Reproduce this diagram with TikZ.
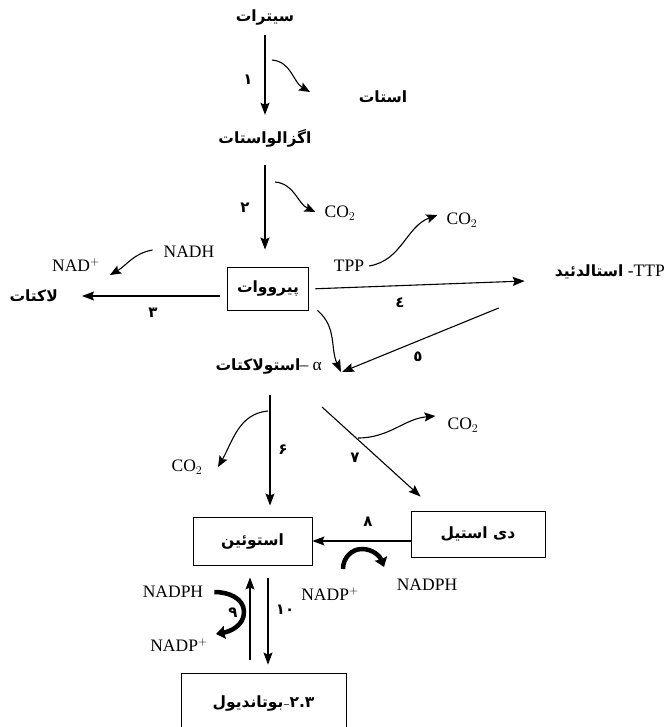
\documentclass[tikz,border=0pt]{standalone}
\usepackage{fontspec}
\setmainfont{Liberation Serif}
\newfontfamily\arabicfont[Script=Arabic]{DejaVu Sans}
\TeXXeTstate=1
\newcommand{\pers}[1]{{\arabicfont\bfseries\fontsize{15.5}{18}\selectfont\beginR #1\endR}}
\usetikzlibrary{arrows.meta,positioning}

\begin{document}
\begin{tikzpicture}[x=1pt, y=-1pt,
    chem/.style={inner sep=1pt, font=\fontsize{17.5}{20}\selectfont},
    word/.style={inner sep=0pt, minimum height=20pt},
    box/.style={draw, line width=0.9pt, inner sep=0pt},
    num/.style={inner sep=1pt, font=\arabicfont\bfseries\fontsize{15}{17}\selectfont},
    arr/.style={line width=1.1pt, -{Stealth[length=12pt,width=9pt,inset=2pt]}},
    side/.style={line width=1.1pt, -{Stealth[length=11pt,width=9pt,inset=2pt]}},
    heavy/.style={line width=4.5pt, -{Stealth[length=9pt,width=13pt,inset=1pt]}}]
\useasboundingbox (0,0) rectangle (665,727);
% compounds
\node[word] (cit) at (265,18) {\pers{سیترات}};
\node[word] (ace) at (383,97) {\pers{استات}};
\node[word] (oxa) at (265,138) {\pers{اگزالواستات}};
\node[box, minimum width=81pt, minimum height=43pt] (pyr) at (268,288.5) {\pers{پیرووات}};
\node[word, anchor=east] (lac) at (58,296) {\pers{لاکتات}};
\node[word, chem, inner sep=0pt, anchor=east] (ald) at (665,272) {\pers{استالدئید}\ -TTP};
\node[word, chem, inner sep=0pt, anchor=east] (alac) at (322,367) {\pers{استولاکتات}\kern-1pt–\ α};
\node[box, minimum width=119pt, minimum height=48pt] (aco) at (252.5,541) {\pers{استوئین}};
\node[box, minimum width=134pt, minimum height=46pt] (dia) at (478,534) {\pers{دی استیل}};
\node[box, minimum width=165pt, minimum height=60pt] (but) at (263.5,703)
    {\pers{بوتاندیول}\kern0.5pt\textbf{–}\kern0.5pt{\arabicfont\bfseries\fontsize{15.5}{18}\selectfont ٢.٣}};
% cofactors
\node[chem] (nad) at (76,265) {NAD$^+$};
\node[chem] (nadh) at (189,252) {NADH};
\node[chem] (co2a) at (340,213) {CO$_2$};
\node[chem] (tpp) at (349,266) {TPP};
\node[chem] (co2b) at (462,220) {CO$_2$};
\node[chem] (co2c) at (187,467) {CO$_2$};
\node[chem] (co2d) at (463,425) {CO$_2$};
\node[chem] (nadphr) at (427,585) {NADPH};
\node[chem] (nadpm) at (330,594) {NADP$^+$};
\node[chem] (nadphl) at (173,592) {NADPH};
\node[chem] (nadpl) at (179,645) {NADP$^+$};
% step numbers
\foreach \x/\y/\n in {248/80/١, 245/208/٢, 153/313/٣, 400/303/٤, 418/357/٥,
    283/450/۶, 355/458/٧, 368/522/٨, 233/613/٩, 285/610/١٠}
    \node[num] at (\x,\y) {\n};
% main arrows
\draw[arr, shorten <=7pt, shorten >=13pt] (cit.south) -- (oxa.north);
\draw[arr, shorten <=17pt, shorten >=17pt] (oxa.south) -- (oxa.south |- pyr.north);
\draw[arr, shorten <=7pt, shorten >=24pt] ([yshift=-7.5pt]pyr.west) -- (lac.east);
\draw[arr, shorten <=6.5pt] ([yshift=-0.5pt]pyr.east) -- ([xshift=-30pt,yshift=-9pt]ald.west);
\draw[arr] ([xshift=-56pt,yshift=-36pt]ald.west) -- ([xshift=20pt,yshift=-5pt]alac.east);
\draw[arr] ([xshift=8.5pt]pyr.south east) to[out=-40,in=115] ([xshift=19pt,yshift=-5pt]alac.east);
\draw[arr, shorten <=28pt, shorten >=11pt] ([xshift=17.5pt]aco.north |- alac.center)
    -- ([xshift=17.5pt]aco.north);
\draw[arr] ([yshift=-40pt]alac.east) -- ([xshift=10pt,yshift=14pt]dia.north west);
\draw[arr] (dia.west |- aco.east) -- (aco.east);
\draw[arr, shorten <=13pt, shorten >=12pt] ([xshift=-2.5pt]aco.south |- but.north)
    -- ([xshift=-2.5pt]aco.south);
\draw[arr, shorten <=13pt, shorten >=8pt] ([xshift=15.5pt]aco.south)
    -- ([xshift=15.5pt]aco.south |- but.north);
% side arrows
\coordinate (s1) at (272,60);  \coordinate (e1) at (310,92);
\coordinate (s2) at (275,182);
\coordinate (e3) at (110,275);
\coordinate (s6) at (268,411);
\coordinate (s7) at (358,438);
\draw[side] (s1) to[out=-5,in=150] (e1);
\draw[side] (s2) to[out=-5,in=155] ([xshift=-8pt,yshift=1pt]co2a.west);
\draw[side] ([xshift=-10pt,yshift=2pt]nadh.west) to[out=190,in=30] (e3);
\draw[side] ([xshift=4pt]tpp.east) to[out=10,in=200] ([xshift=-8pt,yshift=5pt]co2b.west);
\draw[side] (s6) to[out=185,in=60] ([xshift=31pt,yshift=0pt]co2c.center);
\draw[side] (s7) to[out=0,in=185] ([xshift=-11pt,yshift=9pt]co2d.west);
% heavy cofactor arrows
\draw[heavy] (343,569) to[out=90,in=180] (362,549) to[out=0,in=110] (384,567);
\draw[heavy] ([xshift=10pt]nadphl.east) to[out=0,in=90] (244,612) to[out=-90,in=10] (216,634);
\end{tikzpicture}
\end{document}
